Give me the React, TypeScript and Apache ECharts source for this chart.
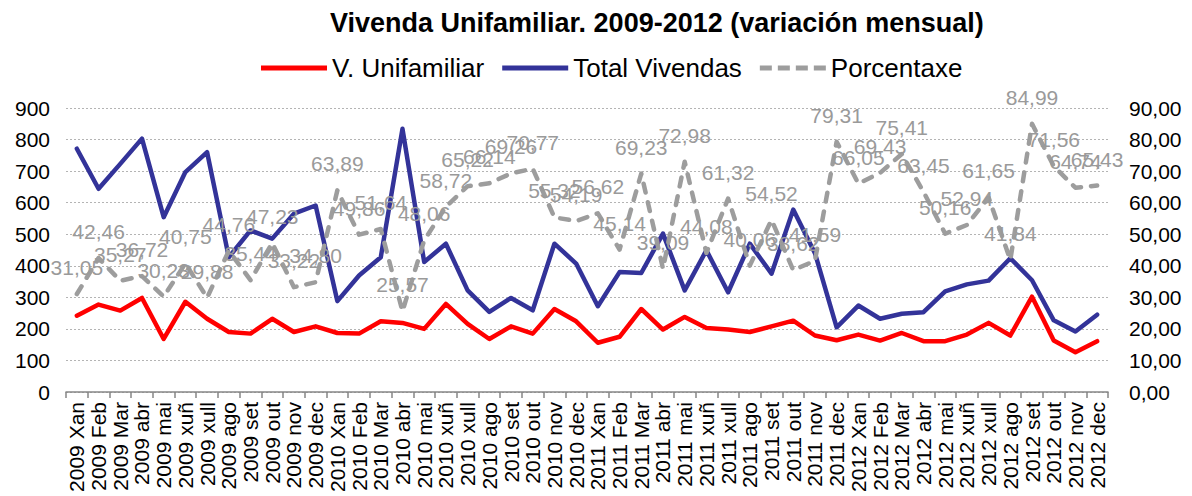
import React, { useEffect, useRef } from 'react';
import * as echarts from 'echarts';

const years = ['2009', '2010', '2011', '2012'];
const months = ['Xan', 'Feb', 'Mar', 'abr', 'mai', 'xuñ', 'xull', 'ago', 'set', 'out', 'nov', 'dec'];
const categories = years.flatMap((y) => months.map((m) => `${y} ${m}`));

const unifamiliar = [
  242, 277, 258, 298, 168, 286, 232, 190, 185, 232, 190, 208,
  187, 185, 224, 219, 200, 279, 216, 168, 208, 185, 263, 224,
  156, 175, 263, 198, 238, 203, 198, 190, 208, 226, 179, 164,
  182, 163, 187, 161, 161, 182, 219, 179, 302, 163, 126, 161,
];

const totalVivendas = [
  771, 644, 723, 803, 554, 697, 760, 427, 512, 486, 565, 591,
  288, 369, 427, 834, 412, 470, 322, 254, 298, 259, 470, 407,
  272, 380, 377, 502, 322, 449, 316, 470, 375, 578, 440, 205,
  274, 232, 248, 253, 319, 341, 353, 424, 354, 227, 192, 245,
];

const porcentaxe = [
  31.05, 42.46, 35.27, 36.72, 30.23, 40.75, 29.88, 44.76, 35.44, 47.23, 33.22, 34.8,
  63.89, 49.86, 51.64, 25.57, 48.06, 58.72, 65.22, 66.14, 69.26, 70.77, 55.32, 54.19,
  56.62, 45.14, 69.23, 39.09, 72.98, 44.08, 61.32, 40.06, 54.52, 38.62, 41.59, 79.31,
  66.05, 69.43, 75.41, 63.45, 50.16, 52.94, 61.65, 41.84, 84.99, 71.56, 64.74, 65.43,
];

const seriesNames = ['V. Unifamiliar', 'Total Vivendas', 'Porcentaxe'];
const titleText = 'Vivenda Unifamiliar. 2009-2012 (variación mensual)';

const FONT = '"Liberation Sans", Arial, sans-serif';
const fmt = (v: number) => v.toFixed(2).replace('.', ',');

export default function App() {
  const ref = useRef<HTMLDivElement>(null);
  useEffect(() => {
    const chart = echarts.init(ref.current!, null, { renderer: 'svg' });
    chart.setOption({
      animation: false,
      textStyle: { fontFamily: FONT },
      title: {
        text: titleText,
        left: 330,
        top: 9,
        padding: 0,
        textStyle: { fontSize: 27, fontWeight: 'bold', color: '#000', fontFamily: FONT },
      },
      legend: {
        left: 261,
        top: 55,
        padding: 0,
        itemWidth: 66,
        itemHeight: 5,
        itemGap: 18,
        textStyle: { fontSize: 26, color: '#000', fontFamily: FONT },
        data: [
          { name: seriesNames[0], icon: 'path://M0,0H66V5H0Z' },
          { name: seriesNames[1], icon: 'path://M0,0H66V5H0Z' },
          {
            name: seriesNames[2],
            icon: 'path://M0,0H12V5H0Z M18,0H30V5H18Z M36,0H48V5H36Z M54,0H66V5H54Z',
          },
        ],
      },
      grid: { left: 66, right: 84, top: 108, bottom: 104, containLabel: false },
      xAxis: {
        type: 'category',
        data: categories,
        boundaryGap: true,
        axisLine: { show: true, lineStyle: { color: '#868686', width: 1.5 } },
        axisTick: { show: true, length: 6, lineStyle: { color: '#868686', width: 1.5 } },
        axisLabel: {
          rotate: 90,
          interval: 0,
          fontSize: 21,
          color: '#000',
          margin: 10,
          fontFamily: FONT,
        },
      },
      yAxis: [
        {
          type: 'value',
          min: 0,
          max: 900,
          interval: 100,
          axisLine: { show: false },
          axisTick: { show: false },
          axisLabel: { fontSize: 21, color: '#000', margin: 16, fontFamily: FONT },
          splitLine: { show: true, lineStyle: { color: '#b4b4b4', type: [2, 2], width: 1 } },
        },
        {
          type: 'value',
          min: 0,
          max: 90,
          interval: 10,
          axisLine: { show: false },
          axisTick: { show: false },
          axisLabel: { fontSize: 21, color: '#000', margin: 21, fontFamily: FONT, formatter: (v: number) => fmt(v) },
          splitLine: { show: false },
        },
      ],
      series: [
        {
          name: seriesNames[0],
          type: 'line',
          data: unifamiliar,
          symbol: 'none',
          lineStyle: { color: '#FF0000', width: 4.5, cap: 'round', join: 'round' },
          itemStyle: { color: '#FF0000' },
        },
        {
          name: seriesNames[1],
          type: 'line',
          data: totalVivendas,
          symbol: 'none',
          lineStyle: { color: '#333399', width: 4.5, cap: 'round', join: 'round' },
          itemStyle: { color: '#333399' },
        },
        {
          name: seriesNames[2],
          type: 'line',
          yAxisIndex: 1,
          data: porcentaxe,
          symbol: 'circle',
          symbolSize: 0,
          showSymbol: true,
          lineStyle: { color: '#9d9d9d', width: 4.5, type: [9, 10], cap: 'round', join: 'round' },
          itemStyle: { color: '#9d9d9d' },
          label: {
            show: true,
            position: 'top',
            distance: 16,
            fontSize: 21,
            color: '#9a9a9a',
            fontFamily: FONT,
            formatter: (p: any) => fmt(p.value),
          },
        },
      ],
    });
    return () => chart.dispose();
  }, []);
  return (
    <div
      ref={ref}
      style={{ position: 'absolute', left: 0, top: 0, width: 1192, height: 496 }}
    />
  );
}
